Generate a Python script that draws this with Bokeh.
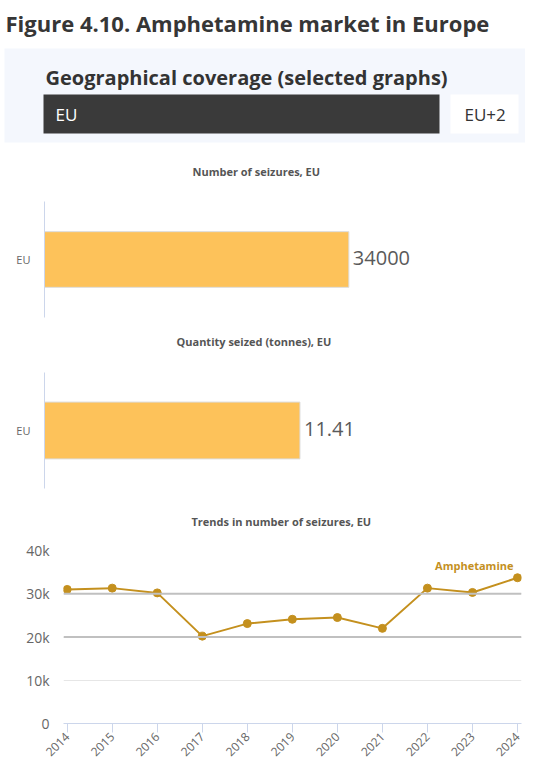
import math
from bokeh.plotting import figure
from bokeh.layouts import column
from bokeh.models import Range1d, Span, FixedTicker
from bokeh.core.properties import value
from bokeh.embed import file_html
from bokeh.resources import INLINE

# ---------------- data ----------------
page_title = "Figure 4.10. Amphetamine market in Europe"
selector_title = "Geographical coverage (selected graphs)"
coverage_options = ["EU", "EU+2"]
selected_option = "EU"

bar_categories = ["EU"]
seizures_title = "Number of seizures, EU"
seizures_count = [34000]
seizures_labels = ["34000"]

quantity_title = "Quantity seized (tonnes), EU"
quantity_tonnes = [11.41]
quantity_labels = ["11.41"]

trend_title = "Trends in number of seizures, EU"
series_name = "Amphetamine"
years = [2014, 2015, 2016, 2017, 2018, 2019, 2020, 2021, 2022, 2023, 2024]
amphetamine_seizures = [31000, 31300, 30200, 20200, 23100, 24100, 24500, 22000, 31300, 30300, 33700]
y_ticks = [0, 10000, 20000, 30000, 40000]
y_tick_labels = ["0", "10k", "20k", "30k", "40k"]
emphasised_levels = [20000, 30000]

# ---------------- styles ----------------
W = 525
HEAD_FONT = "Open Sans"
CHART_FONT = "Open Sans"
BAR_COLOR = "#fdc25a"
LINE_COLOR = "#c4901e"
AXIS_COLOR = "#ccd6eb"


def no_align(p):
    if "frame_align" in p.properties():
        p.frame_align = False


def strip(height):
    p = figure(width=W, height=height, x_range=Range1d(0, W), y_range=Range1d(height, 0),
               x_axis_type=None, y_axis_type=None,
               toolbar_location=None, output_backend="svg", min_border=0)
    no_align(p)
    p.outline_line_color = None
    return p


def title_strip(text, height, tx, ty):
    p = strip(height)
    p.text(x=[tx], y=[ty], text=[text], text_font=value(CHART_FONT), text_font_style="bold",
           text_font_size="11px", text_color="#555555", text_baseline="middle")
    return p


# ---------------- header ----------------
HH = 148
p0 = strip(HH)
p0.text(x=[5], y=[22], text=[page_title], text_font=value(HEAD_FONT), text_font_style="bold",
        text_font_size="22px", text_color="#363636", text_baseline="middle")
p0.quad(left=[4], right=[W], top=[48], bottom=[142], color="#f4f7fd", line_color=None)
p0.text(x=[45], y=[77], text=[selector_title], text_font=value(HEAD_FONT), text_font_style="bold",
        text_font_size="20px", text_color="#333333", text_baseline="middle")
btn_left = [43, 450]
btn_right = [439, 518]
btn_fill = ["#3a3a3a" if o == selected_option else "#ffffff" for o in coverage_options]
btn_text = ["#ffffff" if o == selected_option else "#333333" for o in coverage_options]
p0.quad(left=btn_left, right=btn_right, top=[94, 94], bottom=[133, 133], color=btn_fill, line_color=None)
p0.text(x=[55, 464], y=[114, 114], text=coverage_options, text_font=value(HEAD_FONT),
        text_font_size="17px", text_color=btn_text, text_baseline="middle")


# ---------------- bar charts ----------------
def bar_chart(vals, labels, x_end, height, top, bottom, bar_h):
    p = figure(width=W, height=height, y_range=bar_categories, x_range=Range1d(0, x_end),
               x_axis_type=None,
               toolbar_location=None, output_backend="svg",
               min_border_left=44, min_border_right=3, min_border_top=top, min_border_bottom=bottom)
    no_align(p)
    p.outline_line_color = None
    p.grid.visible = False
    p.yaxis.axis_line_color = AXIS_COLOR
    p.yaxis.major_tick_line_color = None
    p.yaxis.minor_tick_line_color = None
    p.yaxis.major_tick_out = 0
    p.yaxis.major_label_text_font = CHART_FONT
    p.yaxis.major_label_text_font_size = "11px"
    p.yaxis.major_label_text_color = "#666666"
    p.yaxis.major_label_standoff = 14
    p.hbar(y=bar_categories, right=vals, height=bar_h, fill_color=BAR_COLOR, line_color="#dcdcdc")
    p.text(x=vals, y=bar_categories, text=labels, x_offset=4, y_offset=-2, text_baseline="middle",
           text_font=value(CHART_FONT), text_font_size="20px", text_color="#5a5a5a")
    return p


t1 = title_strip(seizures_title, 40, 192, 23)
p1 = bar_chart(seizures_count, seizures_labels, 53400, 132, 13, 3, 0.48)
t2 = title_strip(quantity_title, 40, 176, 21)
p2 = bar_chart(quantity_tonnes, quantity_labels, 21.35, 140, 12, 12, 0.49)

# ---------------- line chart ----------------
t3 = title_strip(trend_title, 36, 191, 21)
p3 = figure(width=W, height=227, x_range=Range1d(2013.918, 2024.089), y_range=Range1d(0, 40000),
            toolbar_location=None, output_backend="svg",
            min_border_left=63, min_border_right=4, min_border_top=14, min_border_bottom=38)
no_align(p3)
p3.outline_line_color = None
p3.xgrid.visible = False
p3.ygrid.ticker = FixedTicker(ticks=y_ticks)
p3.ygrid.grid_line_color = "#e6e6e6"
for lv in emphasised_levels:
    p3.add_layout(Span(location=lv, dimension="width", line_color="#c0c0c0", line_width=2))

p3.yaxis.ticker = FixedTicker(ticks=y_ticks)
p3.yaxis.major_label_overrides = {t: l for t, l in zip(y_ticks, y_tick_labels)}
p3.yaxis.axis_line_color = None
p3.yaxis.major_tick_line_color = None
p3.yaxis.major_tick_out = 0
p3.yaxis.minor_tick_line_color = None
p3.yaxis.major_label_text_font = CHART_FONT
p3.yaxis.major_label_text_font_size = "14px"
p3.yaxis.major_label_text_color = "#666666"
p3.yaxis.major_label_standoff = 14

p3.xaxis.ticker = FixedTicker(ticks=years)
p3.xaxis.axis_line_color = AXIS_COLOR
p3.xaxis.major_tick_line_color = AXIS_COLOR
p3.xaxis.major_tick_in = 0
p3.xaxis.major_tick_out = 9
p3.xaxis.minor_tick_line_color = None
p3.xaxis.major_label_orientation = math.pi / 4
p3.xaxis.major_label_text_font = CHART_FONT
p3.xaxis.major_label_text_font_size = "12px"
p3.xaxis.major_label_text_color = "#666666"
p3.xaxis.major_label_standoff = 2

p3.line(years, amphetamine_seizures, line_color=LINE_COLOR, line_width=2)
p3.scatter(years, amphetamine_seizures, size=8, fill_color=LINE_COLOR, line_color=LINE_COLOR)
p3.text(x=years[-1:], y=amphetamine_seizures[-1:], text=[series_name], x_offset=-4, y_offset=-12,
        text_align="right", text_baseline="middle", text_font=value(CHART_FONT),
        text_font_style="bold", text_font_size="11px", text_color=LINE_COLOR)

layout = column(p0, t1, p1, t2, p2, t3, p3, spacing=0)
open("out.html", "w").write(file_html(layout, INLINE))
